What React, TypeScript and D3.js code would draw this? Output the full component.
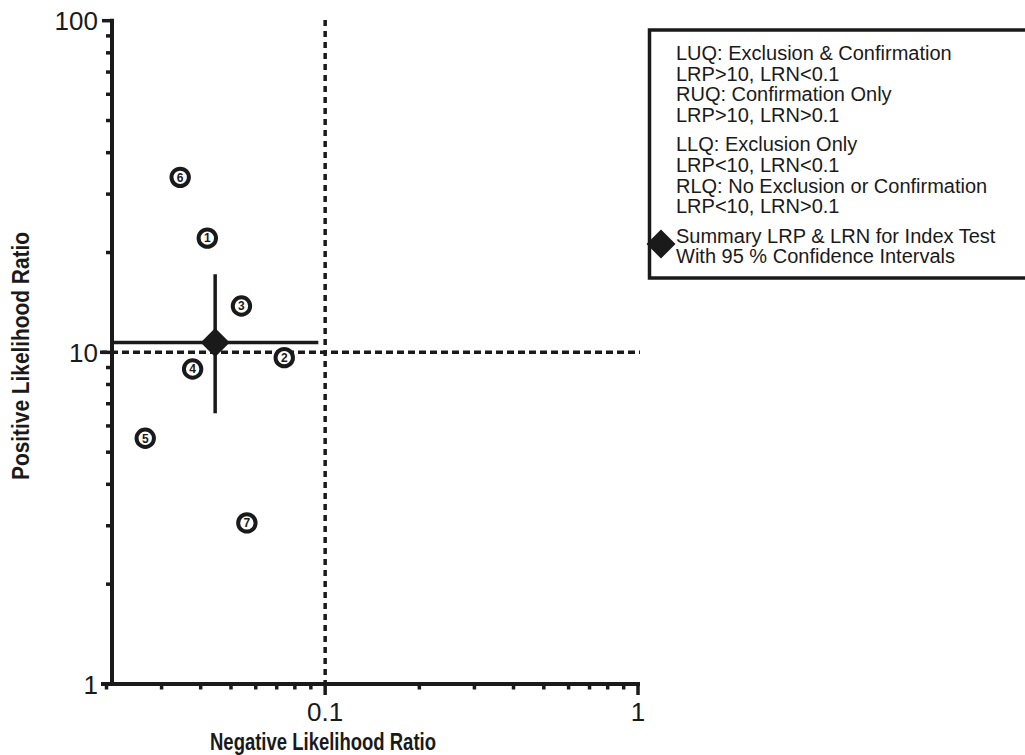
import React from "react";
import * as d3 from "d3";

// studies: negative LR (x), positive LR (y)
const studyIds = [1, 2, 3, 4, 5, 6, 7];
const studyLRN = [0.042, 0.074, 0.054, 0.0377, 0.0266, 0.0344, 0.0562];
const studyLRP = [22.1, 9.64, 13.8, 8.91, 5.51, 33.7, 3.06];

// summary estimate with 95% CI
const summary = { lrn: 0.0445, lrp: 10.7 };
const summaryLRNci = [0.0209, 0.0951];
const summaryLRPci = [6.55, 17.2];

const xTickLabels = [0.1, 1];
const yTickLabels = [1, 10, 100];
const cutLRN = 0.1;
const cutLRP = 10;

const legendGroups = [
  ["LUQ: Exclusion & Confirmation", "LRP>10, LRN<0.1", "RUQ: Confirmation Only", "LRP>10, LRN>0.1"],
  ["LLQ: Exclusion Only", "LRP<10, LRN<0.1", "RLQ: No Exclusion or Confirmation", "LRP<10, LRN>0.1"],
  ["Summary LRP & LRN for Index Test", "With 95 % Confidence Intervals"],
];

const font = "'Liberation Sans', Arial, Helvetica, sans-serif";

const App = () => {
  const width = 1025;
  const height = 755;
  const x = d3.scaleLog().domain([0.02, 1]).range([106.5, 638]);
  const y = d3.scaleLog().domain([1, 100]).range([684, 20.7]);
  const axisX = 112;
  const axisY = 684;
  const ink = "#1a1a1a";

  const xMinor = d3.range(2, 10).map((d) => d / 100).concat(d3.range(2, 10).map((d) => d / 10));
  const yMinor = d3.range(2, 10).concat(d3.range(2, 10).map((d) => d * 10));

  const diamond = (cx, cy, r) => `M${cx},${cy - r}L${cx + r},${cy}L${cx},${cy + r}L${cx - r},${cy}Z`;

  // legend layout
  let ly = 60;
  const legendRows = [];
  legendGroups.forEach((g) => {
    g.forEach((t) => {
      legendRows.push({ t, y: ly });
      ly += 20.7;
    });
    ly += 8.5;
  });

  return (
    <svg width={width} height={height} style={{ position: "absolute", left: 0, top: 0, background: "#fff" }} fontFamily={font}>
      {/* reference lines */}
      <line x1={100} x2={640} y1={y(cutLRP)} y2={y(cutLRP)} stroke={ink} strokeWidth={3.5} strokeDasharray="7,4" />
      <line x1={x(cutLRN)} x2={x(cutLRN)} y1={20} y2={axisY} stroke={ink} strokeWidth={3.5} strokeDasharray="6,5" />

      {/* y axis */}
      <line x1={axisX} x2={axisX} y1={y(100) - 2} y2={axisY + 2} stroke={ink} strokeWidth={4} />
      {yMinor.map((d) => (
        <line key={"ym" + d} x1={axisX - 6} x2={axisX} y1={y(d)} y2={y(d)} stroke={ink} strokeWidth={3.5} />
      ))}
      {yTickLabels.map((d) => (
        <g key={"yt" + d}>
          <line x1={axisX - 10} x2={axisX} y1={y(d)} y2={y(d)} stroke={ink} strokeWidth={3.5} />
          <text x={axisX - 14} y={y(d) + 9.5} textAnchor="end" fontSize={26} fill={ink}>{d}</text>
        </g>
      ))}

      {/* x axis */}
      <line x1={101} x2={x(1) + 2} y1={axisY} y2={axisY} stroke={ink} strokeWidth={4} />
      {xMinor.map((d) => (
        <line key={"xm" + d} x1={x(d)} x2={x(d)} y1={axisY} y2={axisY + 5.5} stroke={ink} strokeWidth={3.5} />
      ))}
      {xTickLabels.map((d) => (
        <g key={"xt" + d}>
          <line x1={x(d)} x2={x(d)} y1={axisY} y2={axisY + 11} stroke={ink} strokeWidth={3.5} />
          <text x={x(d)} y={axisY + 37} textAnchor="middle" fontSize={26} fill={ink}>{d}</text>
        </g>
      ))}

      {/* axis titles */}
      <text x={323} y={750} textAnchor="middle" fontSize={24} fontWeight="bold" fill={ink} textLength={226} lengthAdjust="spacingAndGlyphs">
        Negative Likelihood Ratio
      </text>
      <text transform={`translate(29,356) rotate(-90)`} textAnchor="middle" fontSize={24} fontWeight="bold" fill={ink} textLength={248} lengthAdjust="spacingAndGlyphs">
        Positive Likelihood Ratio
      </text>

      {/* summary CI */}
      <line x1={x(summaryLRNci[0])} x2={x(summaryLRNci[1])} y1={y(summary.lrp)} y2={y(summary.lrp)} stroke={ink} strokeWidth={3.5} />
      <line x1={x(summary.lrn)} x2={x(summary.lrn)} y1={y(summaryLRPci[0])} y2={y(summaryLRPci[1])} stroke={ink} strokeWidth={3.5} />
      <path d={diamond(x(summary.lrn), y(summary.lrp), 14.5)} fill={ink} />

      {/* studies */}
      {studyIds.map((id, i) => (
        <g key={"s" + id} transform={`translate(${x(studyLRN[i])},${y(studyLRP[i])})`}>
          <circle r={8.7} fill="#fff" stroke={ink} strokeWidth={4} />
          <text y={4.3} textAnchor="middle" fontSize={12} fontWeight="bold" fill={ink}>{id}</text>
        </g>
      ))}

      {/* legend */}
      <rect x={649.5} y={30} width={400} height={248} fill="none" stroke={ink} strokeWidth={3.5} />
      {legendRows.map((r, i) => (
        <text key={"l" + i} x={676} y={r.y} fontSize={20} fill={ink}>{r.t}</text>
      ))}
      <path d={diamond(661, 244, 14.5)} fill={ink} />
    </svg>
  );
};

export default App;
